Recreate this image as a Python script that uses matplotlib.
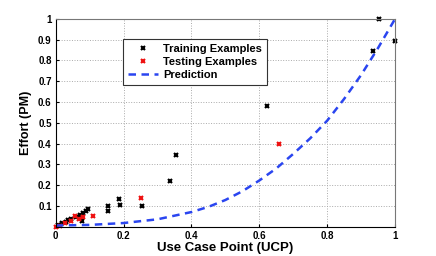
import matplotlib
matplotlib.use("Agg")
import matplotlib.pyplot as plt

plt.rcParams['font.family'] = ['Liberation Sans', 'DejaVu Sans']
plt.rcParams['font.weight'] = 'bold'

# training examples (normalised UCP, effort)
train_x = [0.953, 1.0, 0.936, 0.623, 0.354, 0.338, 0.255, 0.186, 0.189, 0.154, 0.154,
           0.095, 0.088, 0.081, 0.071, 0.061, 0.046, 0.036, 0.031, 0.017, 0.007, 0.076]
train_y = [1.0, 0.893, 0.846, 0.579, 0.347, 0.218, 0.097, 0.134, 0.105, 0.097, 0.076,
           0.084, 0.073, 0.065, 0.057, 0.045, 0.036, 0.032, 0.024, 0.016, 0.008, 0.029]

# testing examples
test_x = [0.659, 0.251, 0.11, 0.056, 0.081, 0.069, 0.046, 0.027, 0.012, 0.002]
test_y = [0.396, 0.138, 0.053, 0.053, 0.045, 0.036, 0.028, 0.016, 0.005, 0.0]

# prediction curve
pred_x = [0, 0.1, 0.2, 0.3, 0.4, 0.45, 0.5, 0.55, 0.6, 0.65, 0.7, 0.75, 0.8, 0.85, 0.9, 0.95, 1.0]
pred_y = [0.005, 0.008, 0.017, 0.035, 0.07, 0.095, 0.128, 0.17, 0.222, 0.28, 0.35,
          0.425, 0.51, 0.615, 0.73, 0.86, 1.0]

fig = plt.figure(figsize=(4.36, 2.56), dpi=100)
ax = fig.add_axes([0.128, 0.115, 0.778, 0.811])

ax.plot(train_x, train_y, 'x', color='black', markersize=3.5, markeredgewidth=1.5,
        label='Training Examples', clip_on=False)
ax.plot(test_x, test_y, 'x', color='#ee1111', markersize=3.5, markeredgewidth=1.5,
        label='Testing Examples', clip_on=False)
ax.plot(pred_x, pred_y, '--', color='#2a45f0', linewidth=1.8, dashes=(3, 2.2),
        label='Prediction')

ax.set_xlim(0, 1)
ax.set_ylim(0, 1)
ax.set_xticks([0, 0.2, 0.4, 0.6, 0.8, 1])
ax.set_xticklabels(['0', '0.2', '0.4', '0.6', '0.8', '1'])
ax.set_yticks([0.1, 0.2, 0.3, 0.4, 0.5, 0.6, 0.7, 0.8, 0.9, 1])
ax.set_yticklabels(['0.1', '0.2', '0.3', '0.4', '0.5', '0.6', '0.7', '0.8', '0.9', '1'])
ax.tick_params(labelsize=7, direction='in', length=2.5, pad=3)
ax.grid(True, linestyle=':', color='#aaaaaa', linewidth=0.7)

for s in ax.spines.values():
    s.set_linewidth(0.8)
ax.spines['top'].set_color('#777777')
ax.spines['right'].set_color('#777777')

ax.set_xlabel('Use Case Point (UCP)', fontsize=9.5, fontweight='bold', labelpad=1)
ax.set_ylabel('Effort (PM)', fontsize=9, fontweight='bold', labelpad=4)

leg = ax.legend(loc='upper left', bbox_to_anchor=(0.198, 0.905), borderaxespad=0,
                fontsize=8, numpoints=1, fancybox=False, framealpha=1,
                edgecolor='#333333', borderpad=0.45, labelspacing=0.3,
                handlelength=2.7, handletextpad=0.45)
leg.get_frame().set_linewidth(0.8)

fig.savefig('out.png', dpi=100)
